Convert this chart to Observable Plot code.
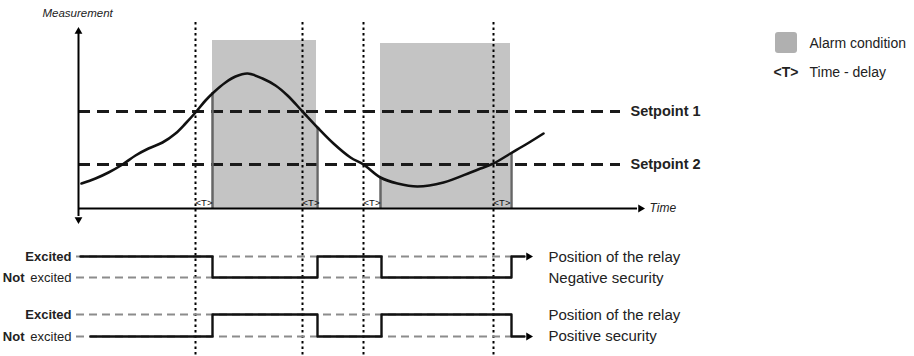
<!DOCTYPE html>
<html>
<head>
<meta charset="utf-8">
<script src="https://cdn.jsdelivr.net/npm/d3@7"></script>
<script src="https://cdn.jsdelivr.net/npm/@observablehq/plot@0.6"></script>
<style>
  html, body { margin: 0; padding: 0; background: #fff; }
  #chart svg { display: block; }
</style>
</head>
<body>
<div id="chart"></div>
<script>
// ---- Diagram data (diagram units: time → right, level → down) ----
const curveT = [81, 95, 108, 122, 135, 148, 162, 175, 185, 195, 205, 213, 225, 235, 247, 262, 275, 287, 302, 317, 333, 350, 363, 380, 397, 417, 443, 470, 480, 493, 510, 527, 543];
const curveM = [183, 178, 172, 164, 155, 148, 142, 133, 123, 112, 100, 92, 82, 76, 73, 78, 85, 95, 111, 127, 143, 157, 164, 177, 183, 186, 182, 172, 168, 163, 153, 143, 133];

const alarmStart = [212, 380];
const alarmEnd = [316, 510];
const alarmTop = [40, 43];

const edgeT = [212, 317, 380, 511];
const edgeM = [92, 127, 177, 153];

const setpointLevels = [111, 164];
const setpointLabels = ["Setpoint 1", "Setpoint 2"];

const delayT = [195, 302, 363, 493];
const delayLabel = "<T>";

const axisOriginT = 78;
const axisBaseM = 208;
const axisTopM = 28;
const axisBottomM = 220;
const axisEndT = 640;
const setpointEndT = 620;
const dottedTop = 22;
const dottedBottom = 356;

const negT = [80, 212, 317, 381, 511, 524];
const negY = [256, 277, 256, 277, 256, 256];
const posT = [90, 212, 317, 381, 511, 524];
const posY = [336, 314, 336, 314, 336, 336];
const relayLevels = [256, 277, 314, 336];
const relayLevelStart = 76;
const relayLevelEnd = 512;
const relayArrowT = 528;

const stateBold = ["Excited", "Not", "Excited", "Not"];
const stateRegular = ["", "excited", "", "excited"];

const relayText = ["Position of the relay", "Negative security", "Position of the relay", "Positive security"];
const relayTextY = [257, 278, 315, 336];

const legendLabels = ["Alarm condition", "Time - delay"];

// ---- Build mark tables ----
const curve = curveT.map((t, i) => ({t, m: curveM[i]}));
const alarms = alarmStart.map((s, i) => ({s, e: alarmEnd[i], top: alarmTop[i]}));
const edges = edgeT.map((t, i) => ({t, m: edgeM[i]}));
const setpoints = setpointLevels.map((m, i) => ({m, label: setpointLabels[i]}));
const neg = negT.map((t, i) => ({t, y: negY[i]}));
const pos = posT.map((t, i) => ({t, y: posY[i]}));
const states = relayLevels.map((y, i) => ({y, bold: stateBold[i], reg: stateRegular[i]}));
const relayNotes = relayText.map((s, i) => ({s, y: relayTextY[i]}));
const arrows = [
  {t: axisOriginT, y: axisTopM + 3, r: 0},
  {t: axisOriginT, y: axisBottomM - 1, r: 180},
  {t: axisEndT, y: axisBaseM, r: 90},
  {t: relayArrowT, y: relayLevels[0], r: 90},
  {t: relayArrowT, y: relayLevels[3], r: 90}
];

const font = "'Liberation Sans', Arial, Helvetica, sans-serif";

const chart = Plot.plot({
  width: 914,
  height: 356,
  margin: 0,
  x: {domain: [0, 914], range: [0, 914], axis: null},
  y: {domain: [0, 356], range: [0, 356], axis: null},
  style: {fontFamily: font, background: "#fff", overflow: "visible"},
  marks: [
    // alarm condition areas
    Plot.rect(alarms, {x1: "s", x2: "e", y1: "top", y2: axisBaseM, fill: "#c4c4c4"}),
    // delay dotted lines
    Plot.ruleX(delayT, {x: d => d, y1: dottedTop, y2: dottedBottom, stroke: "#000", strokeWidth: 2, strokeDasharray: "2.5,3"}),
    // setpoints
    Plot.ruleY(setpoints, {y: "m", x1: axisOriginT, x2: setpointEndT, stroke: "#1a1a1a", strokeWidth: 3, strokeDasharray: "12,7"}),
    // edges of alarm
    Plot.ruleX(edges, {x: "t", y1: "m", y2: axisBaseM, stroke: "#666", strokeWidth: 2.5}),
    // measurement curve
    Plot.line(curve, {x: "t", y: "m", curve: "catmull-rom", stroke: "#111", strokeWidth: 2.6}),
    // axes
    Plot.ruleX([axisOriginT], {y1: axisTopM + 4, y2: axisBottomM - 4, stroke: "#000", strokeWidth: 2}),
    Plot.ruleY([axisBaseM], {x1: axisOriginT, x2: axisEndT - 3, stroke: "#000", strokeWidth: 2}),
    // relay dashed levels
    Plot.ruleY(relayLevels, {y: d => d, x1: relayLevelStart, x2: relayLevelEnd, stroke: "#8c8c8c", strokeWidth: 2.2, strokeDasharray: "8,5"}),
    // relay lines
    Plot.line(neg, {x: "t", y: "y", curve: "step-after", stroke: "#111", strokeWidth: 2.4}),
    Plot.line(pos, {x: "t", y: "y", curve: "step-after", stroke: "#111", strokeWidth: 2.4}),
    // arrow heads
    Plot.dot(arrows, {x: "t", y: "y", rotate: "r", symbol: "triangle", r: 2.9, fill: "#000", stroke: "none"}),
    // texts
    Plot.text(["Measurement"], {x: 42, y: 13, text: d => d, textAnchor: "start", fontStyle: "italic", fontSize: 11.5, fill: "#222"}),
    Plot.text(["Time"], {x: axisEndT + 9, y: axisBaseM, text: d => d, textAnchor: "start", fontStyle: "italic", fontSize: 12, fill: "#222"}),
    Plot.text(setpoints, {x: setpointEndT + 10, y: "m", text: "label", textAnchor: "start", fontWeight: "bold", fontSize: 14.5, fill: "#222"}),
    Plot.text(delayT, {x: d => d + 8.5, y: 202, text: () => delayLabel, fontSize: 9.5, fill: "#111"}),
    Plot.text(states.filter(d => d.reg), {x: 71, y: "y", text: "reg", textAnchor: "end", fontSize: 13, fill: "#222"}),
    Plot.text(states, {x: d => d.reg ? 24 : 71, y: "y", text: "bold", textAnchor: "end", fontWeight: "bold", fontSize: 13, fill: "#222"}),
    Plot.text(relayNotes, {x: 548, y: "y", text: "s", textAnchor: "start", fontSize: 15, fill: "#222"}),
    // legend
    Plot.rect([0], {x1: 775, x2: 797, y1: 32, y2: 53, fill: "#b0b0b0", rx: 3}),
    Plot.text([legendLabels[0]], {x: 809, y: 43, text: d => d, textAnchor: "start", fontSize: 14, fill: "#222"}),
    Plot.text([delayLabel], {x: 773, y: 72, text: d => d, textAnchor: "start", fontWeight: "bold", fontSize: 14, fill: "#222"}),
    Plot.text([legendLabels[1]], {x: 809, y: 72, text: d => d, textAnchor: "start", fontSize: 14, fill: "#222"})
  ]
});

document.getElementById("chart").appendChild(chart);
</script>
</body>
</html>
